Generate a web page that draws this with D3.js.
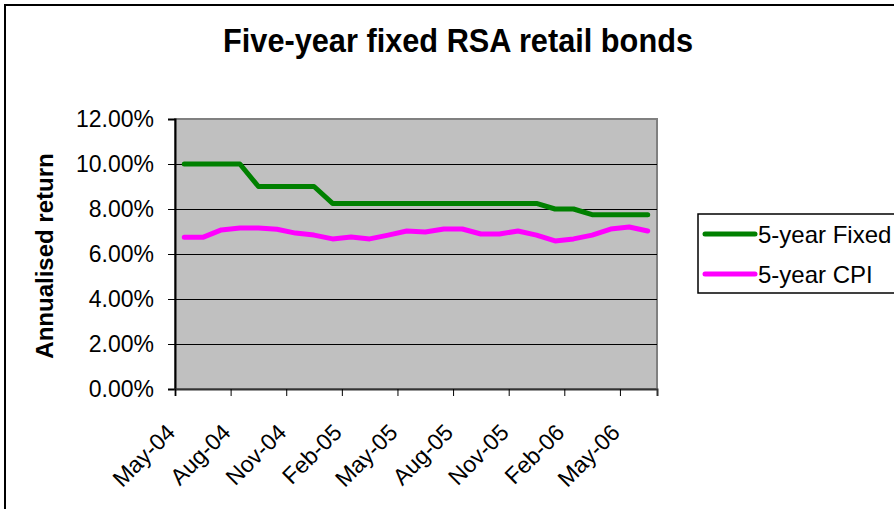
<!DOCTYPE html>
<html>
<head>
<meta charset="utf-8">
<script src="https://cdn.jsdelivr.net/npm/d3@7"></script>
<style>
  body { margin: 0; background: #fff; }
  text { font-family: "Liberation Sans", Arial, sans-serif; }
</style>
</head>
<body>
<div id="chart"></div>
<script>
        // Monthly categories
        var months = ["May-04", "Jun-04", "Jul-04", "Aug-04", "Sep-04", "Oct-04", "Nov-04",
            "Dec-04", "Jan-05", "Feb-05", "Mar-05", "Apr-05", "May-05", "Jun-05", "Jul-05",
            "Aug-05", "Sep-05", "Oct-05", "Nov-05", "Dec-05", "Jan-06", "Feb-06", "Mar-06",
            "Apr-06", "May-06", "Jun-06"];

        // Annualised returns (%)
        var fixed = [10, 10, 10, 10, 9, 9, 9, 9, 8.25, 8.25, 8.25, 8.25, 8.25, 8.25, 8.25,
            8.25, 8.25, 8.25, 8.25, 8.25, 8, 8, 7.75, 7.75, 7.75, 7.75];
        var cpi = [6.74, 6.74, 7.07, 7.16, 7.16, 7.10, 6.93, 6.84, 6.67, 6.76, 6.67, 6.84, 7.02,
            6.98, 7.11, 7.11, 6.89, 6.89, 7.02, 6.84, 6.58, 6.67, 6.84, 7.11, 7.20, 7.02];

        var yTicks = [0, 2, 4, 6, 8, 10, 12];
        var tickMonths = ["May-04", "Aug-04", "Nov-04", "Feb-05", "May-05", "Aug-05", "Nov-05", "Feb-06", "May-06"];

        var series = [
            { name: "5-year Fixed", values: fixed, color: "#008000" },
            { name: "5-year CPI", values: cpi, color: "#FF00FF" }
        ];

        var W = 894, H = 509;
        var plot = { left: 175, right: 657, top: 119, bottom: 389 };

        var svg = d3.select("#chart")
            .append("svg")
            .attr("width", W)
            .attr("height", H);

        // Outer chart frame (only top and left edges are visible)
        svg.append("rect")
            .attr("x", 5).attr("y", 5)
            .attr("width", W + 20).attr("height", H + 20)
            .attr("fill", "#fff")
            .attr("stroke", "#000")
            .attr("stroke-width", 2);

        // Scales
        var xScale = d3.scaleLinear()
            .domain([0, months.length])
            .range([plot.left, plot.right]);

        var yScale = d3.scaleLinear()
            .domain([0, 12])
            .range([plot.bottom, plot.top]);

        // Plot area
        svg.append("rect")
            .attr("x", plot.left).attr("y", plot.top)
            .attr("width", plot.right - plot.left)
            .attr("height", plot.bottom - plot.top)
            .attr("fill", "#C0C0C0")
            .attr("stroke", "#808080")
            .attr("stroke-width", 2);

        // Gridlines
        svg.append("g")
            .selectAll("line")
            .data(yTicks.filter(function (d) { return d > 0 && d < 12; }))
            .enter()
            .append("line")
            .attr("x1", plot.left).attr("x2", plot.right)
            .attr("y1", function (d) { return Math.round(yScale(d)) + 0.5; })
            .attr("y2", function (d) { return Math.round(yScale(d)) + 0.5; })
            .attr("stroke", "#000")
            .attr("stroke-width", 1);

        // Y-axis
        var yAxis = svg.append("g")
            .attr("transform", "translate(" + plot.left + ",0)")
            .call(d3.axisLeft(yScale)
                .tickValues(yTicks)
                .tickSize(7)
                .tickPadding(14)
                .tickFormat(function (d) { return d.toFixed(2) + "%"; }));
        yAxis.select(".domain").attr("stroke", "#000").attr("stroke-width", 2);
        yAxis.selectAll(".tick line").attr("stroke", "#000");
        yAxis.selectAll("text")
            .attr("font-size", "23px")
            .attr("font-family", "Liberation Sans, Arial, sans-serif")
            .attr("fill", "#000");

        // X-axis
        var xAxis = svg.append("g")
            .attr("transform", "translate(0," + plot.bottom + ")")
            .call(d3.axisBottom(xScale)
                .tickValues(tickMonths.map(function (m) { return months.indexOf(m); }))
                .tickSize(7)
                .tickFormat(function (i) { return months[i]; }));
        xAxis.select(".domain").attr("stroke", "#333").attr("stroke-width", 2);
        xAxis.selectAll(".tick line").attr("stroke", "#000");
        xAxis.selectAll("text")
            .attr("font-size", "23px")
            .attr("font-family", "Liberation Sans, Arial, sans-serif")
            .attr("fill", "#000")
            .style("text-anchor", "end")
            .attr("x", 0).attr("y", 0)
            .attr("dx", 0).attr("dy", 0)
            .attr("transform", "translate(1,45) rotate(-45)");

        // Lines
        var line = d3.line()
            .x(function (d, i) { return xScale(i + 0.5); })
            .y(function (d) { return yScale(d); });

        svg.selectAll(".series")
            .data(series)
            .enter()
            .append("path")
            .attr("class", "series")
            .attr("d", function (d) { return line(d.values); })
            .attr("fill", "none")
            .attr("stroke", function (d) { return d.color; })
            .attr("stroke-width", 5)
            .attr("stroke-linecap", "round")
            .attr("stroke-linejoin", "round");

        // Title
        svg.append("text")
            .attr("x", 458).attr("y", 52)
            .attr("text-anchor", "middle")
            .attr("font-size", "33px")
            .attr("font-weight", "bold")
            .attr("textLength", 470)
            .attr("lengthAdjust", "spacingAndGlyphs")
            .text("Five-year fixed RSA retail bonds");

        // Y-axis title
        svg.append("text")
            .attr("transform", "translate(53,256) rotate(-90)")
            .attr("text-anchor", "middle")
            .attr("font-size", "24px")
            .attr("font-weight", "bold")
            .text("Annualised return");

        // Legend
        var legend = svg.append("g");
        legend.append("rect")
            .attr("x", 698).attr("y", 214)
            .attr("width", 220).attr("height", 79)
            .attr("fill", "#fff")
            .attr("stroke", "#000")
            .attr("stroke-width", 1.5);

        var items = legend.selectAll(".item")
            .data(series)
            .enter()
            .append("g")
            .attr("transform", function (d, i) { return "translate(0," + (234 + i * 40) + ")"; });
        items.append("line")
            .attr("x1", 705).attr("x2", 755)
            .attr("stroke", function (d) { return d.color; })
            .attr("stroke-width", 5)
            .attr("stroke-linecap", "round");
        items.append("text")
            .attr("x", 758).attr("y", 9)
            .attr("font-size", "24px")
            .text(function (d) { return d.name; });
</script>
</body>
</html>
